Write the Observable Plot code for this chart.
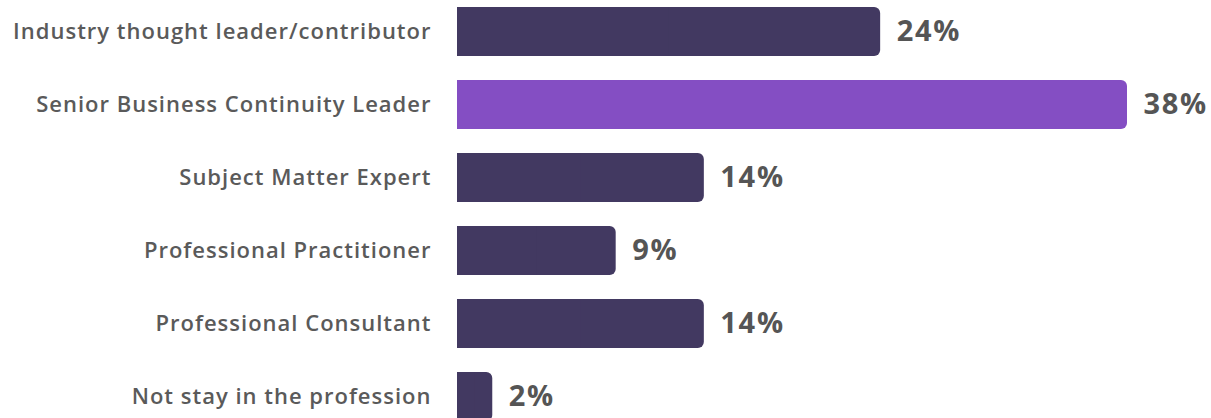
<!DOCTYPE html>
<html>
<head>
<meta charset="utf-8">
<script src="https://cdn.jsdelivr.net/npm/d3@7"></script>
<script src="https://cdn.jsdelivr.net/npm/@observablehq/plot@0.6"></script>
<style>
  html, body { margin: 0; padding: 0; background: #ffffff; }
  #chart svg { display: block; }
</style>
</head>
<body>
<div id="chart"></div>
<script>
const categories = [
  "Industry thought leader/contributor",
  "Senior Business Continuity Leader",
  "Subject Matter Expert",
  "Professional Practitioner",
  "Professional Consultant",
  "Not stay in the profession"
];
const values = [24, 38, 14, 9, 14, 2];
const highlight = [false, true, false, false, false, false];
const valueLabels = ["24%", "38%", "14%", "9%", "14%", "2%"];

const data = categories.map((c, i) => ({
  category: c,
  value: values[i],
  half: values[i] / 2,
  hl: highlight[i],
  label: valueLabels[i]
}));

const chart = Plot.plot({
  width: 1211,
  height: 418,
  marginTop: 0,
  marginBottom: 0,
  marginLeft: 0,
  marginRight: 0,
  style: { background: "#ffffff", overflow: "hidden" },
  x: { domain: [0, 38], range: [457, 1127], axis: null },
  y: { domain: categories, range: [7, 421], paddingInner: 0.3288, paddingOuter: 0, round: false, axis: null },
  color: { domain: [false, true], range: ["#423961", "#844ec3"] },
  marks: [
    Plot.barX(data, { x: "value", y: "category", fill: "hl", rx: 6 }),
    Plot.barX(data, { x: "half", y: "category", fill: "hl" }),
    Plot.text(data, {
      x: 0, y: "category", text: "category", textAnchor: "end", dx: -26,
      fill: "#5a5a5a", fontSize: 22, fontWeight: 600,
      fontFamily: "'Open Sans', sans-serif"
    }),
    Plot.text(data, {
      x: "value", y: "category", text: "label", textAnchor: "start", dx: 16,
      fill: "#555555", fontSize: 29, fontWeight: 700,
      fontFamily: "'Open Sans', sans-serif"
    })
  ]
});
const textGroups = chart.querySelectorAll('g[aria-label="text"]');
if (textGroups[0]) textGroups[0].style.letterSpacing = "1px";
if (textGroups[1]) textGroups[1].style.letterSpacing = "1.7px";
document.getElementById("chart").appendChild(chart);
</script>
</body>
</html>
